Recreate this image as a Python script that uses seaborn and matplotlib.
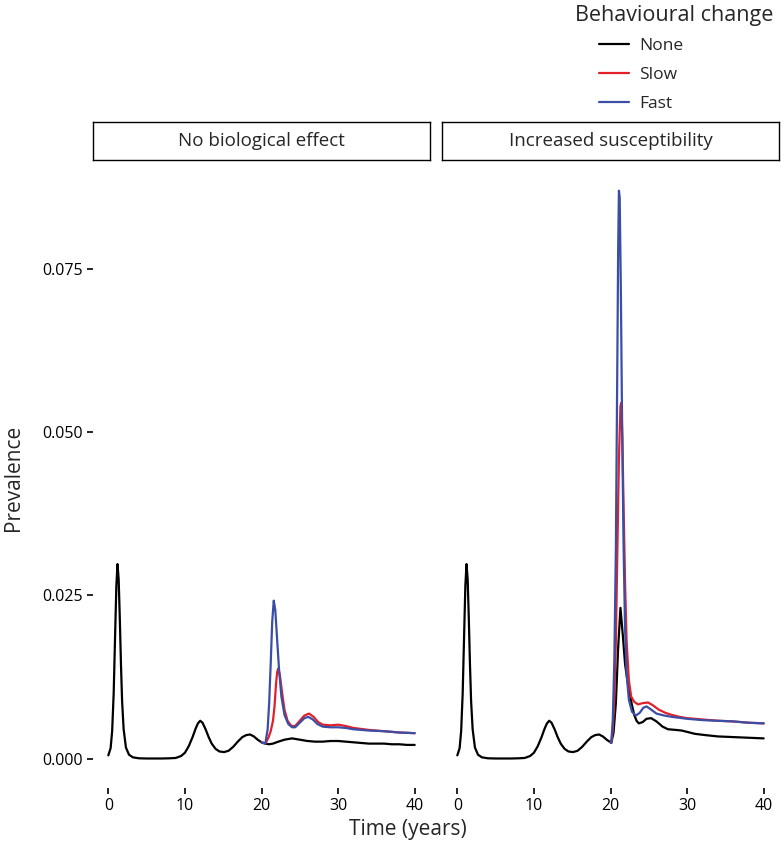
import pandas as pd
import matplotlib
matplotlib.use("Agg")
import matplotlib.pyplot as plt
import seaborn as sns

# shared curve before behaviour change (same in both panels)
t_pre = [0.0, 0.3, 0.5, 0.7, 0.9, 1.05, 1.2, 1.35, 1.5, 1.65, 1.8, 2.0, 2.3, 2.7, 3.2, 4.0,
         5.0, 6.0, 7.0, 8.0, 8.8, 9.5, 10.0, 10.5, 11.0, 11.4, 11.7, 12.0, 12.3, 12.7, 13.1,
         13.5, 14.0, 14.5, 15.1, 15.7, 16.3, 16.9, 17.5, 18.0, 18.5, 19.0, 19.5, 20.0]
prev_pre = [0.0005, 0.0016, 0.0042, 0.0100, 0.0195, 0.0265, 0.0298, 0.0275, 0.0215, 0.0145,
            0.0088, 0.0045, 0.0017, 0.0006, 0.0002, 0.00005, 0.00002, 0.00002, 0.00002,
            0.00005, 0.0001, 0.0004, 0.0009, 0.0019, 0.0033, 0.0046, 0.0054, 0.0058, 0.0055,
            0.0045, 0.0033, 0.0023, 0.0015, 0.0011, 0.0010, 0.0012, 0.0018, 0.0026, 0.0033,
            0.0036, 0.0037, 0.0034, 0.0029, 0.0025]

# No biological effect, after t = 20
t_nobio_none = [20.5, 21.0, 21.5, 22.2, 23.0, 24.0, 25.0, 26.0, 27.0, 28.0, 29.0, 30.0,
                31.0, 32.0, 33.0, 34.0, 35.0, 36.0, 37.0, 38.0, 39.0, 40.0]
nobio_none = [0.0023, 0.0022, 0.0023, 0.0026, 0.0029, 0.0031, 0.0029, 0.0027, 0.0026, 0.0026,
              0.0027, 0.0027, 0.0026, 0.0025, 0.0024, 0.0023, 0.0023, 0.0023, 0.0022, 0.0022,
              0.0021, 0.0021]
t_nobio_slow = [20.0, 20.5, 20.9, 21.2, 21.5, 21.7, 21.9, 22.05, 22.2, 22.4, 22.7, 23.0, 23.4,
                23.9, 24.4, 25.0, 25.6, 26.2, 26.8, 27.4, 28.0, 29.0, 30.0, 31.0, 32.0, 34.0,
                36.0, 38.0, 40.0]
nobio_slow = [0.0025, 0.0023, 0.0032, 0.0042, 0.0058, 0.0080, 0.0115, 0.0133, 0.0138, 0.0128,
              0.0100, 0.0075, 0.0058, 0.0050, 0.0050, 0.0058, 0.0066, 0.0069, 0.0064, 0.0056,
              0.0052, 0.0051, 0.0052, 0.0050, 0.0047, 0.0044, 0.0042, 0.0040, 0.0039]
t_nobio_fast = [20.0, 20.5, 20.8, 21.0, 21.2, 21.4, 21.6, 21.8, 22.0, 22.3, 22.6, 23.0, 23.5,
                24.0, 24.4, 25.0, 25.6, 26.1, 26.7, 27.3, 28.0, 29.0, 30.0, 31.0, 32.0, 34.0,
                36.0, 38.0, 40.0]
nobio_fast = [0.0025, 0.0023, 0.0045, 0.0085, 0.0145, 0.0210, 0.0242, 0.0228, 0.0190, 0.0135,
              0.0095, 0.0067, 0.0053, 0.0048, 0.0048, 0.0055, 0.0062, 0.0064, 0.0060, 0.0053,
              0.0049, 0.0048, 0.0048, 0.0047, 0.0045, 0.0043, 0.0042, 0.0040, 0.0039]

# Increased susceptibility, after t = 20
t_susc_none = [20.1, 20.4, 20.7, 21.0, 21.3, 21.6, 21.9, 22.2, 22.5, 22.8, 23.1, 23.4, 23.7,
               24.2, 24.7, 25.3, 26.0, 26.8, 27.5, 28.5, 29.3, 30.0, 31.0, 32.4, 34.0, 36.0,
               38.0, 40.0]
susc_none = [0.0024, 0.0040, 0.0085, 0.0170, 0.0231, 0.0190, 0.0145, 0.0120, 0.0100, 0.0082,
             0.0067, 0.0058, 0.0054, 0.0056, 0.0061, 0.0062, 0.0057, 0.0049, 0.0045, 0.0044,
             0.0043, 0.0041, 0.0038, 0.0036, 0.0034, 0.0033, 0.0032, 0.0031]
t_susc_slow = [20.0, 20.1, 20.3, 20.5, 20.7, 20.9, 21.1, 21.3, 21.4, 21.55, 21.7, 21.9, 22.1,
               22.4, 22.7, 23.1, 23.6, 24.2, 24.9, 25.5, 26.3, 27.2, 28.0, 29.0, 30.0, 32.0,
               34.0, 36.0, 38.0, 40.0]
susc_slow = [0.0025, 0.0024, 0.0045, 0.0090, 0.0180, 0.0320, 0.0460, 0.0540, 0.0545, 0.0490,
             0.0390, 0.0270, 0.0180, 0.0120, 0.0095, 0.0087, 0.0083, 0.0085, 0.0086, 0.0082,
             0.0075, 0.0070, 0.0067, 0.0064, 0.0062, 0.0060, 0.0058, 0.0057, 0.0055, 0.0054]
t_susc_fast = [20.0, 20.1, 20.3, 20.5, 20.7, 20.9, 21.0, 21.1, 21.2, 21.35, 21.5, 21.7, 21.9,
               22.1, 22.4, 22.8, 23.3, 23.8, 24.3, 24.7, 25.2, 26.0, 27.0, 28.0, 30.0, 32.0,
               34.0, 36.0, 38.0, 40.0]
susc_fast = [0.0025, 0.0024, 0.0060, 0.0150, 0.0320, 0.0620, 0.0780, 0.0870, 0.0860, 0.0720,
             0.0530, 0.0330, 0.0200, 0.0130, 0.0090, 0.0072, 0.0066, 0.0070, 0.0078, 0.0080,
             0.0076, 0.0069, 0.0066, 0.0064, 0.0061, 0.0059, 0.0058, 0.0057, 0.0055, 0.0054]

panels = ["No biological effect", "Increased susceptibility"]
changes = ["None", "Slow", "Fast"]
colours = {"None": "black", "Slow": "#E3202A", "Fast": "#3A4EA6"}

# long table for seaborn
rows = []
series = {
    ("No biological effect", "None"): (t_pre + t_nobio_none, prev_pre + nobio_none),
    ("No biological effect", "Slow"): (t_nobio_slow, nobio_slow),
    ("No biological effect", "Fast"): (t_nobio_fast, nobio_fast),
    ("Increased susceptibility", "None"): (t_pre + t_susc_none, prev_pre + susc_none),
    ("Increased susceptibility", "Slow"): (t_susc_slow, susc_slow),
    ("Increased susceptibility", "Fast"): (t_susc_fast, susc_fast),
}
for (p, c), (tt, yy) in series.items():
    for a, b in zip(tt, yy):
        rows.append({"panel": p, "change": c, "time": a, "prevalence": b})
df = pd.DataFrame(rows)

sns.set_style("white")
plt.rcParams["font.family"] = ["Open Sans", "DejaVu Sans"]

fig = plt.figure(figsize=(7.84, 8.48), dpi=100)
W, H = 784, 848
panel_x = [93, 442]
pw = 337
top, bottom = 160, 788

axes = []
for i, p in enumerate(panels):
    ax = fig.add_axes([panel_x[i] / W, 1 - bottom / H, pw / W, (bottom - top) / H])
    sns.lineplot(data=df[df.panel == p], x="time", y="prevalence", hue="change",
                 hue_order=changes, palette=colours, estimator=None, sort=True,
                 linewidth=1.6, ax=ax, legend=(i == 0))
    ax.set_xlim(-2, 42)
    ax.set_ylim(-0.0045, 0.0917)
    ax.set_xticks([0, 10, 20, 30, 40])
    ax.set_yticks([0, 0.025, 0.05, 0.075])
    ax.set_yticklabels(["0.000", "0.025", "0.050", "0.075"])
    ax.set_xlabel("")
    ax.set_ylabel("")
    sns.despine(ax=ax, left=True, bottom=True)
    ax.tick_params(axis="both", direction="out", length=4, width=1.2, color="black",
                   labelsize=11.5, labelcolor="black", pad=3)
    ax.tick_params(axis="both", which="both", bottom=True, left=(i == 0), labelleft=(i == 0))
    # strip
    sx = fig.add_axes([panel_x[i] / W, 1 - top / H, pw / W, 38 / H])
    sx.set_xticks([])
    sx.set_yticks([])
    for s in sx.spines.values():
        s.set_visible(True)
        s.set_color("black")
        s.set_linewidth(1.0)
    sx.text(0.5, 0.5, p, ha="center", va="center", fontsize=13.5, transform=sx.transAxes)
    axes.append(ax)

handles, labels = axes[0].get_legend_handles_labels()
axes[0].get_legend().remove()
fig.legend(handles, labels, loc="upper left", bbox_to_anchor=(599 / W, 1 - 38 / H),
           frameon=False, fontsize=12.5, handlelength=1.7, handletextpad=0.6,
           labelspacing=0.75, borderaxespad=0, borderpad=0)
fig.text(575 / W, 1 - 16 / H, "Behavioural change", fontsize=15.5, ha="left", va="center")

fig.text(408 / W, 1 - 830 / H, "Time (years)", fontsize=15, ha="center", va="center")
fig.text(14 / W, 1 - 478 / H, "Prevalence", fontsize=15, ha="center", va="center", rotation=90)

fig.savefig("out.png", dpi=100)
